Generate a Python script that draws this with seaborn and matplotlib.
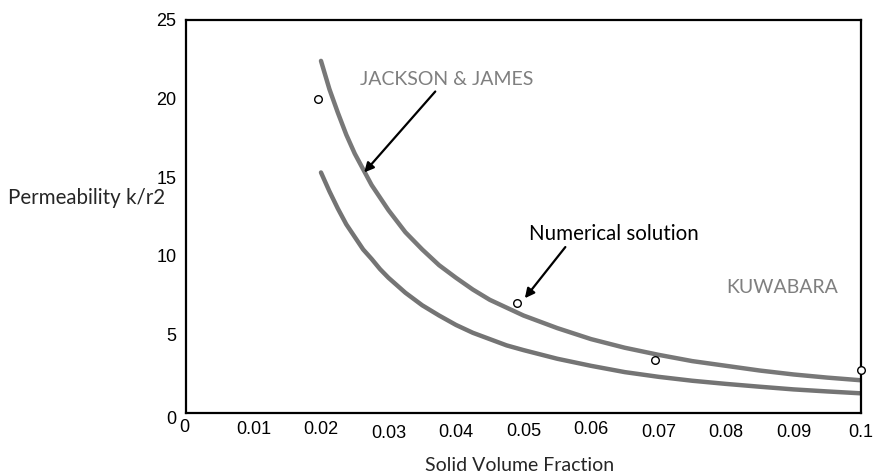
import numpy as np
import pandas as pd
import matplotlib
matplotlib.use("Agg")
import matplotlib.pyplot as plt
import matplotlib.transforms as mtransforms
import seaborn as sns

# curves
phi = [0.02, 0.02125, 0.0225, 0.02375, 0.025, 0.02625, 0.0275, 0.02875, 0.03,
       0.0325, 0.035, 0.0375, 0.04, 0.0425, 0.045, 0.0475, 0.05, 0.055, 0.06,
       0.065, 0.07, 0.075, 0.08, 0.085, 0.09, 0.095, 0.1]
jackson_james = [22.4, 20.6, 19.1, 17.7, 16.5, 15.5, 14.5, 13.7, 12.9,
                 11.5, 10.4, 9.4, 8.6, 7.85, 7.2, 6.7, 6.2, 5.4, 4.7,
                 4.15, 3.7, 3.3, 3.0, 2.7, 2.45, 2.25, 2.08]
kuwabara = [15.3, 14.1, 13.0, 12.0, 11.2, 10.4, 9.8, 9.15, 8.6,
            7.65, 6.85, 6.2, 5.6, 5.1, 4.7, 4.3, 4.0, 3.45, 3.0,
            2.6, 2.3, 2.05, 1.85, 1.67, 1.5, 1.37, 1.25]

# numerical solution points
num_x = [0.0195, 0.049, 0.0695, 0.1]
num_y = [20.0, 7.0, 3.4, 2.75]

x_ticks = [0, 0.01, 0.02, 0.03, 0.04, 0.05, 0.06, 0.07, 0.08, 0.09, 0.1]
x_labels = ["0", "0.01", "0.02", "0.03", "0.04", "0.05", "0.06", "0.07", "0.08", "0.09", "0.1"]
y_ticks = [0, 5, 10, 15, 20, 25]

sns.set_style("white")
plt.rcParams["font.family"] = ["Liberation Sans", "DejaVu Sans"]

curves = pd.DataFrame({"phi": phi + phi,
                       "k": jackson_james + kuwabara,
                       "model": ["Jackson & James"] * len(phi) + ["Kuwabara"] * len(phi)})
points = pd.DataFrame({"phi": num_x, "k": num_y})

fig = plt.figure(figsize=(8.76, 4.76), dpi=100)
ax = fig.add_axes([0.2123, 0.1324, 0.7706, 0.8256])

sns.lineplot(data=curves, x="phi", y="k", hue="model", palette=["#787878", "#747474"],
             linewidth=3.2, legend=False, ax=ax)
sns.scatterplot(data=points, x="phi", y="k", marker="o", s=30, facecolor="white",
                edgecolor="black", linewidth=1.0, ax=ax, clip_on=False, zorder=5)

ax.set_xlim(0, 0.1)
ax.set_ylim(0, 25)
ax.set_xticks(x_ticks)
ax.set_xticklabels(x_labels)
ax.set_yticks(y_ticks)
ax.tick_params(axis="both", length=0, labelsize=13, colors="black")
ax.tick_params(axis="x", pad=8)
ax.tick_params(axis="y", pad=7)
for s in ax.spines.values():
    s.set_color("black")
    s.set_linewidth(1.6)

# the tick labels in the original sit a little unevenly
x_shift = [(-2, 5), (0, 3), (0, 3), (0, -1), (0, 0), (0, 1), (0, 3), (0, 0), (0, 0), (0, 0), (0, 0)]
for lab, (dx, dy) in zip(ax.get_xticklabels(), x_shift):
    lab.set_transform(lab.get_transform() + mtransforms.ScaledTranslation(dx / 100, dy / 100, fig.dpi_scale_trans))
y_labs = ax.get_yticklabels()
y_labs[0].set_transform(y_labs[0].get_transform() + mtransforms.ScaledTranslation(0.0, -0.05, fig.dpi_scale_trans))

ax.set_xlabel("")
ax.set_ylabel("")
fig.text(0.593, 0.023, "Solid Volume Fraction", ha="center", va="center",
         fontsize=14, family=["Lato", "DejaVu Sans"])
fig.text(0.009, 0.584, "Permeability k/r2", ha="left", va="center",
         fontsize=14.8, family=["Lato", "DejaVu Sans"])

ax.annotate("JACKSON & JAMES", xy=(0.0264, 15.3), xytext=(0.0258, 21.2),
            ha="left", va="center", fontsize=14, color="#7f7f7f",
            family=["Lato", "DejaVu Sans"],
            arrowprops=dict(arrowstyle="-|>", color="black", lw=1.6,
                            mutation_scale=14, shrinkA=0, shrinkB=0,
                            relpos=(0.45, 0.0)))
ax.annotate("Numerical solution", xy=(0.0502, 7.3), xytext=(0.0508, 11.4),
            ha="left", va="center", fontsize=14.8, color="black",
            family=["Lato", "DejaVu Sans"],
            arrowprops=dict(arrowstyle="-|>", color="black", lw=1.6,
                            mutation_scale=14, shrinkA=0, shrinkB=0,
                            relpos=(0.23, 0.0)))
ax.text(0.0801, 8.0, "KUWABARA", ha="left", va="center", fontsize=14,
        color="#7f7f7f", family=["Lato", "DejaVu Sans"])

fig.savefig("out.png", dpi=100)
